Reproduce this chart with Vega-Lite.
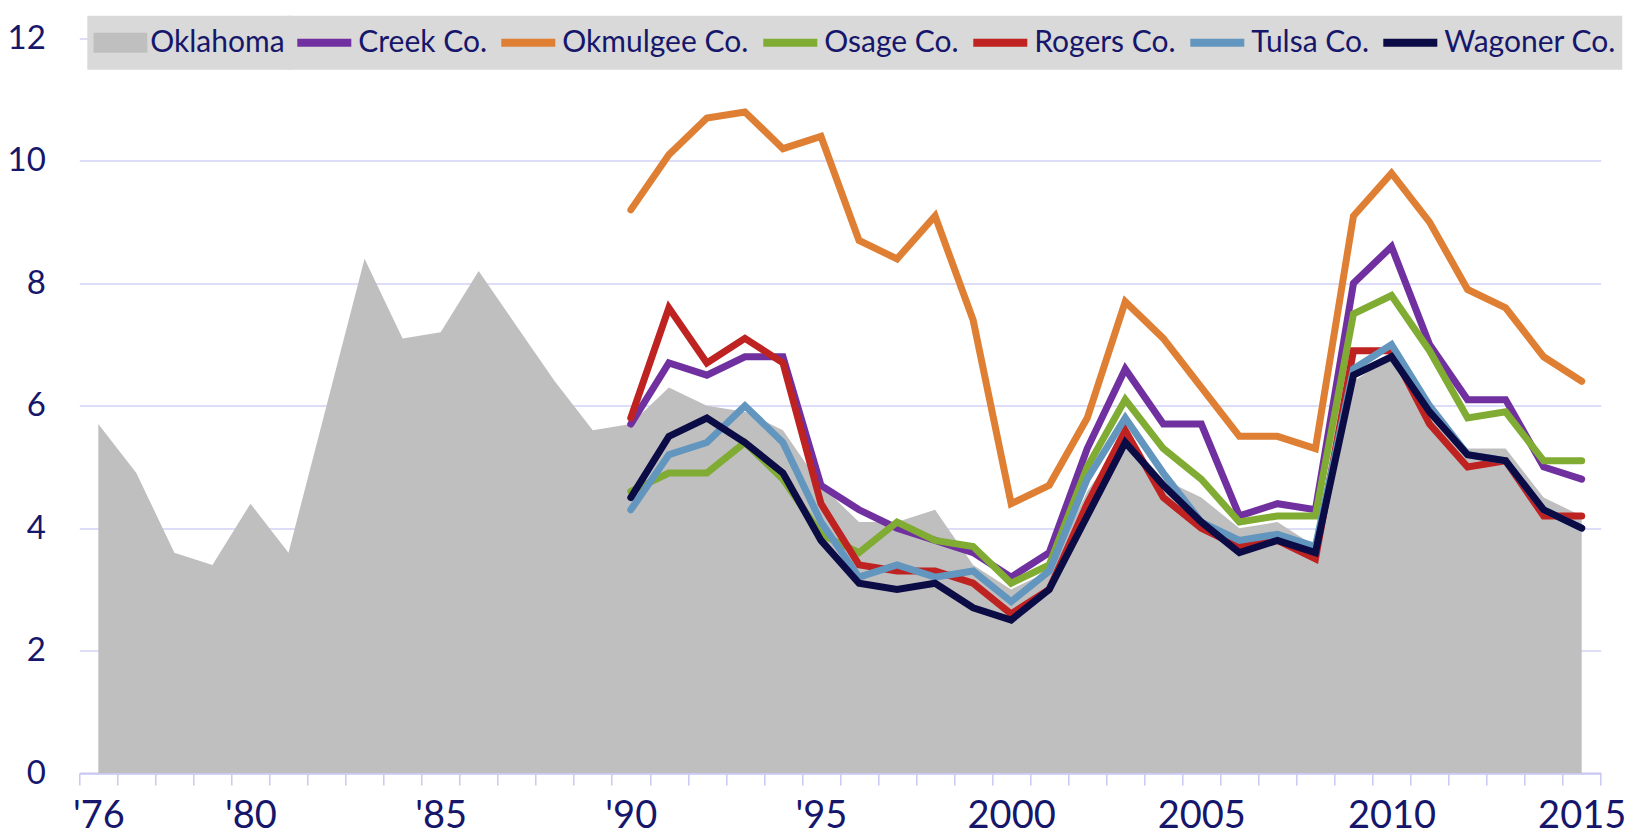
{
  "$schema": "https://vega.github.io/schema/vega-lite/v6.json",
  "width": 1521.4,
  "height": 734.5,
  "autosize": {"type": "none"},
  "padding": {"left": 79.3, "top": 38.5, "right": 38.3, "bottom": 62},
  "background": "white",
  "config": {"view": {"stroke": null}, "font": "Lato"},
  "datasets": {
    "okla": [
      {"s":"Oklahoma","y":1976,"v":5.7},{"s":"Oklahoma","y":1977,"v":4.9},{"s":"Oklahoma","y":1978,"v":3.6},{"s":"Oklahoma","y":1979,"v":3.4},{"s":"Oklahoma","y":1980,"v":4.4},
      {"s":"Oklahoma","y":1981,"v":3.6},{"s":"Oklahoma","y":1982,"v":6.0},{"s":"Oklahoma","y":1983,"v":8.4},{"s":"Oklahoma","y":1984,"v":7.1},{"s":"Oklahoma","y":1985,"v":7.2},
      {"s":"Oklahoma","y":1986,"v":8.2},{"s":"Oklahoma","y":1987,"v":7.3},{"s":"Oklahoma","y":1988,"v":6.4},{"s":"Oklahoma","y":1989,"v":5.6},{"s":"Oklahoma","y":1990,"v":5.7},
      {"s":"Oklahoma","y":1991,"v":6.3},{"s":"Oklahoma","y":1992,"v":6.0},{"s":"Oklahoma","y":1993,"v":5.9},{"s":"Oklahoma","y":1994,"v":5.6},{"s":"Oklahoma","y":1995,"v":4.7},
      {"s":"Oklahoma","y":1996,"v":4.1},{"s":"Oklahoma","y":1997,"v":4.1},{"s":"Oklahoma","y":1998,"v":4.3},{"s":"Oklahoma","y":1999,"v":3.4},{"s":"Oklahoma","y":2000,"v":3.0},
      {"s":"Oklahoma","y":2001,"v":3.3},{"s":"Oklahoma","y":2002,"v":4.6},{"s":"Oklahoma","y":2003,"v":5.5},{"s":"Oklahoma","y":2004,"v":4.8},{"s":"Oklahoma","y":2005,"v":4.5},
      {"s":"Oklahoma","y":2006,"v":4.0},{"s":"Oklahoma","y":2007,"v":4.1},{"s":"Oklahoma","y":2008,"v":3.7},{"s":"Oklahoma","y":2009,"v":6.4},{"s":"Oklahoma","y":2010,"v":6.8},
      {"s":"Oklahoma","y":2011,"v":5.9},{"s":"Oklahoma","y":2012,"v":5.3},{"s":"Oklahoma","y":2013,"v":5.3},{"s":"Oklahoma","y":2014,"v":4.5},{"s":"Oklahoma","y":2015,"v":4.2}
    ],
    "counties": [
      {"s":"Creek Co.","y":1990,"v":5.7},{"s":"Creek Co.","y":1991,"v":6.7},{"s":"Creek Co.","y":1992,"v":6.5},{"s":"Creek Co.","y":1993,"v":6.8},{"s":"Creek Co.","y":1994,"v":6.8},
      {"s":"Creek Co.","y":1995,"v":4.7},{"s":"Creek Co.","y":1996,"v":4.3},{"s":"Creek Co.","y":1997,"v":4.0},{"s":"Creek Co.","y":1998,"v":3.8},{"s":"Creek Co.","y":1999,"v":3.6},
      {"s":"Creek Co.","y":2000,"v":3.2},{"s":"Creek Co.","y":2001,"v":3.6},{"s":"Creek Co.","y":2002,"v":5.3},{"s":"Creek Co.","y":2003,"v":6.6},{"s":"Creek Co.","y":2004,"v":5.7},
      {"s":"Creek Co.","y":2005,"v":5.7},{"s":"Creek Co.","y":2006,"v":4.2},{"s":"Creek Co.","y":2007,"v":4.4},{"s":"Creek Co.","y":2008,"v":4.3},{"s":"Creek Co.","y":2009,"v":8.0},
      {"s":"Creek Co.","y":2010,"v":8.6},{"s":"Creek Co.","y":2011,"v":7.0},{"s":"Creek Co.","y":2012,"v":6.1},{"s":"Creek Co.","y":2013,"v":6.1},{"s":"Creek Co.","y":2014,"v":5.0},
      {"s":"Creek Co.","y":2015,"v":4.8},
      {"s":"Okmulgee Co.","y":1990,"v":9.2},{"s":"Okmulgee Co.","y":1991,"v":10.1},{"s":"Okmulgee Co.","y":1992,"v":10.7},{"s":"Okmulgee Co.","y":1993,"v":10.8},{"s":"Okmulgee Co.","y":1994,"v":10.2},
      {"s":"Okmulgee Co.","y":1995,"v":10.4},{"s":"Okmulgee Co.","y":1996,"v":8.7},{"s":"Okmulgee Co.","y":1997,"v":8.4},{"s":"Okmulgee Co.","y":1998,"v":9.1},{"s":"Okmulgee Co.","y":1999,"v":7.4},
      {"s":"Okmulgee Co.","y":2000,"v":4.4},{"s":"Okmulgee Co.","y":2001,"v":4.7},{"s":"Okmulgee Co.","y":2002,"v":5.8},{"s":"Okmulgee Co.","y":2003,"v":7.7},{"s":"Okmulgee Co.","y":2004,"v":7.1},
      {"s":"Okmulgee Co.","y":2005,"v":6.3},{"s":"Okmulgee Co.","y":2006,"v":5.5},{"s":"Okmulgee Co.","y":2007,"v":5.5},{"s":"Okmulgee Co.","y":2008,"v":5.3},{"s":"Okmulgee Co.","y":2009,"v":9.1},
      {"s":"Okmulgee Co.","y":2010,"v":9.8},{"s":"Okmulgee Co.","y":2011,"v":9.0},{"s":"Okmulgee Co.","y":2012,"v":7.9},{"s":"Okmulgee Co.","y":2013,"v":7.6},{"s":"Okmulgee Co.","y":2014,"v":6.8},
      {"s":"Okmulgee Co.","y":2015,"v":6.4},
      {"s":"Osage Co.","y":1990,"v":4.6},{"s":"Osage Co.","y":1991,"v":4.9},{"s":"Osage Co.","y":1992,"v":4.9},{"s":"Osage Co.","y":1993,"v":5.4},{"s":"Osage Co.","y":1994,"v":4.8},
      {"s":"Osage Co.","y":1995,"v":3.9},{"s":"Osage Co.","y":1996,"v":3.6},{"s":"Osage Co.","y":1997,"v":4.1},{"s":"Osage Co.","y":1998,"v":3.8},{"s":"Osage Co.","y":1999,"v":3.7},
      {"s":"Osage Co.","y":2000,"v":3.1},{"s":"Osage Co.","y":2001,"v":3.4},{"s":"Osage Co.","y":2002,"v":5.0},{"s":"Osage Co.","y":2003,"v":6.1},{"s":"Osage Co.","y":2004,"v":5.3},
      {"s":"Osage Co.","y":2005,"v":4.8},{"s":"Osage Co.","y":2006,"v":4.1},{"s":"Osage Co.","y":2007,"v":4.2},{"s":"Osage Co.","y":2008,"v":4.2},{"s":"Osage Co.","y":2009,"v":7.5},
      {"s":"Osage Co.","y":2010,"v":7.8},{"s":"Osage Co.","y":2011,"v":6.9},{"s":"Osage Co.","y":2012,"v":5.8},{"s":"Osage Co.","y":2013,"v":5.9},{"s":"Osage Co.","y":2014,"v":5.1},
      {"s":"Osage Co.","y":2015,"v":5.1},
      {"s":"Rogers Co.","y":1990,"v":5.8},{"s":"Rogers Co.","y":1991,"v":7.6},{"s":"Rogers Co.","y":1992,"v":6.7},{"s":"Rogers Co.","y":1993,"v":7.1},{"s":"Rogers Co.","y":1994,"v":6.7},
      {"s":"Rogers Co.","y":1995,"v":4.4},{"s":"Rogers Co.","y":1996,"v":3.4},{"s":"Rogers Co.","y":1997,"v":3.3},{"s":"Rogers Co.","y":1998,"v":3.3},{"s":"Rogers Co.","y":1999,"v":3.1},
      {"s":"Rogers Co.","y":2000,"v":2.6},{"s":"Rogers Co.","y":2001,"v":3.0},{"s":"Rogers Co.","y":2002,"v":4.4},{"s":"Rogers Co.","y":2003,"v":5.6},{"s":"Rogers Co.","y":2004,"v":4.5},
      {"s":"Rogers Co.","y":2005,"v":4.0},{"s":"Rogers Co.","y":2006,"v":3.7},{"s":"Rogers Co.","y":2007,"v":3.8},{"s":"Rogers Co.","y":2008,"v":3.5},{"s":"Rogers Co.","y":2009,"v":6.9},
      {"s":"Rogers Co.","y":2010,"v":6.9},{"s":"Rogers Co.","y":2011,"v":5.7},{"s":"Rogers Co.","y":2012,"v":5.0},{"s":"Rogers Co.","y":2013,"v":5.1},{"s":"Rogers Co.","y":2014,"v":4.2},
      {"s":"Rogers Co.","y":2015,"v":4.2},
      {"s":"Tulsa Co.","y":1990,"v":4.3},{"s":"Tulsa Co.","y":1991,"v":5.2},{"s":"Tulsa Co.","y":1992,"v":5.4},{"s":"Tulsa Co.","y":1993,"v":6.0},{"s":"Tulsa Co.","y":1994,"v":5.4},
      {"s":"Tulsa Co.","y":1995,"v":4.1},{"s":"Tulsa Co.","y":1996,"v":3.2},{"s":"Tulsa Co.","y":1997,"v":3.4},{"s":"Tulsa Co.","y":1998,"v":3.2},{"s":"Tulsa Co.","y":1999,"v":3.3},
      {"s":"Tulsa Co.","y":2000,"v":2.8},{"s":"Tulsa Co.","y":2001,"v":3.3},{"s":"Tulsa Co.","y":2002,"v":4.8},{"s":"Tulsa Co.","y":2003,"v":5.8},{"s":"Tulsa Co.","y":2004,"v":4.9},
      {"s":"Tulsa Co.","y":2005,"v":4.1},{"s":"Tulsa Co.","y":2006,"v":3.8},{"s":"Tulsa Co.","y":2007,"v":3.9},{"s":"Tulsa Co.","y":2008,"v":3.7},{"s":"Tulsa Co.","y":2009,"v":6.6},
      {"s":"Tulsa Co.","y":2010,"v":7.0},{"s":"Tulsa Co.","y":2011,"v":6.0},{"s":"Tulsa Co.","y":2012,"v":5.2},{"s":"Tulsa Co.","y":2013,"v":5.1},{"s":"Tulsa Co.","y":2014,"v":4.3},
      {"s":"Tulsa Co.","y":2015,"v":4.0},
      {"s":"Wagoner Co.","y":1990,"v":4.5},{"s":"Wagoner Co.","y":1991,"v":5.5},{"s":"Wagoner Co.","y":1992,"v":5.8},{"s":"Wagoner Co.","y":1993,"v":5.4},{"s":"Wagoner Co.","y":1994,"v":4.9},
      {"s":"Wagoner Co.","y":1995,"v":3.8},{"s":"Wagoner Co.","y":1996,"v":3.1},{"s":"Wagoner Co.","y":1997,"v":3.0},{"s":"Wagoner Co.","y":1998,"v":3.1},{"s":"Wagoner Co.","y":1999,"v":2.7},
      {"s":"Wagoner Co.","y":2000,"v":2.5},{"s":"Wagoner Co.","y":2001,"v":3.0},{"s":"Wagoner Co.","y":2002,"v":4.2},{"s":"Wagoner Co.","y":2003,"v":5.4},{"s":"Wagoner Co.","y":2004,"v":4.7},
      {"s":"Wagoner Co.","y":2005,"v":4.1},{"s":"Wagoner Co.","y":2006,"v":3.6},{"s":"Wagoner Co.","y":2007,"v":3.8},{"s":"Wagoner Co.","y":2008,"v":3.6},{"s":"Wagoner Co.","y":2009,"v":6.5},
      {"s":"Wagoner Co.","y":2010,"v":6.8},{"s":"Wagoner Co.","y":2011,"v":5.9},{"s":"Wagoner Co.","y":2012,"v":5.2},{"s":"Wagoner Co.","y":2013,"v":5.1},{"s":"Wagoner Co.","y":2014,"v":4.3},
      {"s":"Wagoner Co.","y":2015,"v":4.0}
    ]
  },
  "encoding": {
    "x": {
      "field": "y", "type": "quantitative",
      "scale": {"domain": [1975.5, 2015.5], "nice": false, "zero": false},
      "axis": {
        "title": null,
        "grid": false,
        "values": [1975.5,1976.5,1977.5,1978.5,1979.5,1980.5,1981.5,1982.5,1983.5,1984.5,1985.5,1986.5,1987.5,1988.5,1989.5,1990.5,1991.5,1992.5,1993.5,1994.5,1995.5,1996.5,1997.5,1998.5,1999.5,2000.5,2001.5,2002.5,2003.5,2004.5,2005.5,2006.5,2007.5,2008.5,2009.5,2010.5,2011.5,2012.5,2013.5,2014.5,2015.5],
        "labelExpr": "indexof([1976,1980,1985,1990,1995], datum.value + 0.5) >= 0 ? \"'\" + substring(toString(datum.value + 0.5), 2, 4) : (indexof([2000,2005,2010,2015], datum.value + 0.5) >= 0 ? toString(datum.value + 0.5) : '')",
        "labelOffset": 19,
        "labelOverlap": false,
        "labelBound": false,
        "labelFlush": false,
        "labelFont": "Lato",
        "labelFontSize": 38,
        "labelColor": "#16166B",
        "labelPadding": 12,
        "domain": true,
        "domainColor": "#C9C9F2",
        "domainWidth": 2,
        "ticks": true,
        "tickColor": "#C9C9F2",
        "tickWidth": 1.5,
        "tickSize": 12
      }
    },
    "y": {
      "field": "v", "type": "quantitative",
      "scale": {"domain": [0, 12], "nice": false},
      "axis": {
        "title": null,
        "values": [0, 2, 4, 6, 8, 10, 12],
        "grid": true,
        "gridColor": "#D2D2F6",
        "gridWidth": 1.5,
        "domain": false,
        "ticks": false,
        "labelFont": "Lato",
        "labelFontSize": 33,
        "labelColor": "#16166B",
        "labelPadding": 34
      }
    }
  },
  "layer": [
    {
      "data": {"name": "okla"},
      "mark": {"type": "area", "opacity": 1},
      "encoding": {
        "fill": {
          "field": "s", "type": "nominal",
          "scale": {"domain": ["Oklahoma"], "range": ["#BFBFBF"]},
          "legend": {
            "title": null,
            "orient": "none",
            "legendX": 8,
            "legendY": -22.8,
            "direction": "horizontal",
            "fillColor": "#D9D9D9",
            "padding": 6,
            "clipHeight": 42,
            "labelFont": "Lato",
            "labelFontSize": 30,
            "labelColor": "#16166B",
            "labelOffset": 3,
            "labelLimit": 400,
            "symbolType": "M-1,-0.37H1V0.37H-1Z",
            "symbolSize": 2916,
            "symbolStrokeWidth": 0,
            "symbolOpacity": 1
          }
        }
      }
    },
    {
      "data": {"name": "counties"},
      "mark": {"type": "line", "strokeWidth": 7, "strokeCap": "round", "strokeJoin": "miter"},
      "encoding": {
        "stroke": {
          "field": "s", "type": "nominal",
          "scale": {
            "domain": ["Creek Co.", "Okmulgee Co.", "Osage Co.", "Rogers Co.", "Tulsa Co.", "Wagoner Co."],
            "range": ["#7030A0", "#DF7F33", "#81AC34", "#BE2321", "#6396BE", "#0B0B45"]
          },
          "legend": {
            "title": null,
            "orient": "none",
            "legendX": 208,
            "legendY": -22.8,
            "direction": "horizontal",
            "fillColor": "#D9D9D9",
            "padding": 6,
            "clipHeight": 42,
            "labelFont": "Lato",
            "labelFontSize": 30,
            "labelColor": "#16166B",
            "labelOffset": 3,
            "labelLimit": 400,
            "columnPadding": 10,
            "symbolType": "stroke",
            "symbolSize": 2916,
            "symbolStrokeWidth": 8,
            "symbolOpacity": 1
          }
        }
      }
    }
  ]
}
